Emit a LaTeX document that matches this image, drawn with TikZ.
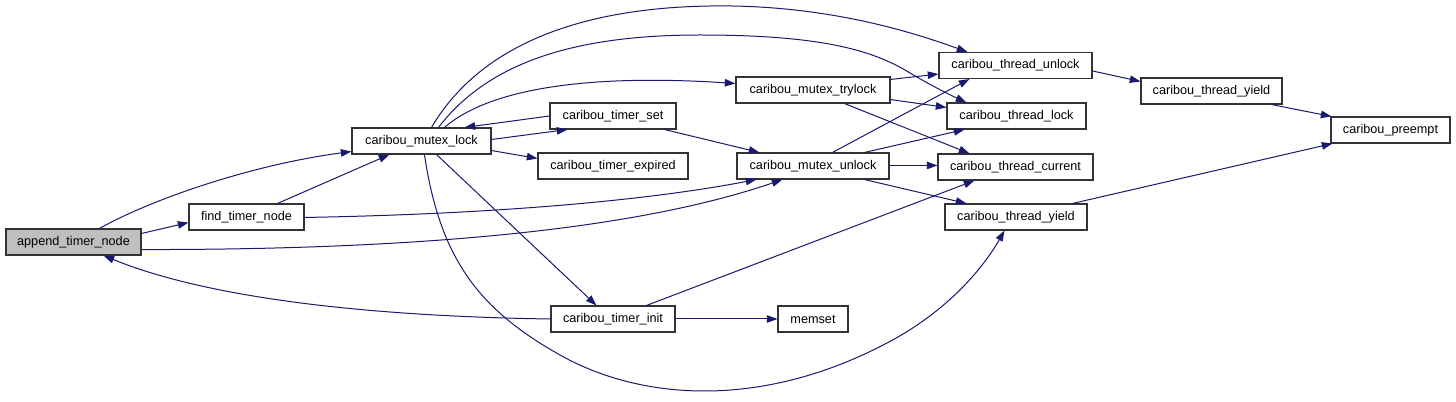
\documentclass[tikz,border=0pt]{standalone}
\usepackage{fontspec}
\setmainfont{Liberation Sans}
\usetikzlibrary{arrows.meta,calc}
\definecolor{edgeblue}{RGB}{25,25,112}
\definecolor{nodegray}{RGB}{191,191,191}
\tikzset{
  fn/.style={draw=black!80, line width=0.8pt, rectangle, inner sep=0pt,
    minimum height=19.5pt, font=\fontsize{9.5}{11}\selectfont, fill=white},
  call/.style={draw=edgeblue, line width=0.75pt, -{Triangle[length=8pt,width=5.6pt]}},
}
\begin{document}
\begin{tikzpicture}[x=0.75pt,y=-0.75pt]
\path[use as bounding box, fill=white] (0,0) rectangle (1456,402);

\node[fn, fill=nodegray, minimum width=101.25pt] (append) at (73.5,242) {append\_timer\_node};
\node[fn, minimum width=86.25pt] (find) at (246.5,217) {find\_timer\_node};
\node[fn, minimum width=104.25pt] (mlock) at (421.5,141) {caribou\_mutex\_lock};
\node[fn, minimum width=94.5pt] (tset) at (613,116) {caribou\_timer\_set};
\node[fn, minimum width=112.5pt] (texp) at (613,166) {caribou\_timer\_expired};
\node[fn, minimum width=115.5pt] (trylock) at (813,90) {caribou\_mutex\_trylock};
\node[fn, minimum width=114pt] (munlock) at (813,166) {caribou\_mutex\_unlock};
\node[fn, minimum width=93pt] (tinit) at (613,319) {caribou\_timer\_init};
\node[fn, minimum width=52.5pt] (memset) at (813,319) {memset};
\node[fn, minimum width=114.75pt] (tunlock) at (1015.5,65.5) {caribou\_thread\_unlock};
\node[fn, minimum width=104.25pt] (tlock) at (1016.5,116) {caribou\_thread\_lock};
\node[fn, minimum width=116.25pt] (tcur) at (1015.5,167) {caribou\_thread\_current};
\node[fn, minimum width=106.5pt] (tyield) at (1016,217) {caribou\_thread\_yield};
\node[fn, minimum width=105.75pt] (tyield2) at (1211.5,91) {caribou\_thread\_yield};
\node[fn, minimum width=89.25pt] (preempt) at (1390.5,130) {caribou\_preempt};

% append_timer_node
\draw[call] ($(append.north west)+(94,0)$) .. controls (150,200) and (250,165) .. ($(mlock.south west)+(0,-3)$);
\draw[call] ($(append.north east)+(0,5)$) -- ($(find.south west)+(0,-8)$);
\draw[call] ($(append.south east)+(0,-6)$) .. controls (450,250) and (650,225) .. ($(munlock.south west)+(46,0)$);

% find_timer_node
\draw[call] ($(find.north west)+(89,0)$) -- ($(mlock.south west)+(38,0)$);
\draw[call] ($(find.north east)+(0,14)$) .. controls (500,214) and (650,200) .. ($(munlock.south west)+(20,0)$);

% caribou_mutex_lock
\draw[call] ($(mlock.north east)+(0,12)$) -- ($(tset.south west)+(18,0)$);
\draw[call] ($(mlock.south east)+(0,-4)$) -- ($(texp.north west)+(0,6)$);
\draw[call] ($(mlock.north west)+(93,0)$) .. controls (490,88) and (590,74) .. ($(trylock.north west)+(0,7)$);
\draw[call] ($(mlock.north west)+(80,0)$) .. controls (480,45) and (580,8) .. (710,6)
   .. controls (830,4) and (920,35) .. ($(tunlock.north west)+(29,0)$);
\draw[call] ($(mlock.north west)+(87,0)$) .. controls (490,60) and (580,35) .. (700,35)
   .. controls (820,35) and (870,50) .. (905,70)
   .. controls (930,85) and (950,95) .. ($(tlock.north west)+(20,0)$);
\draw[call] ($(mlock.south west)+(85,0)$) -- ($(tinit.north west)+(46,0)$);
\draw[call] ($(mlock.south west)+(73,0)$) .. controls (440,260) and (480,310) .. (560,355)
   .. controls (640,400) and (760,410) .. (887,343)
   .. controls (950,310) and (985,265) .. ($(tyield.south west)+(60,0)$);

% caribou_timer_set
\draw[call] (tset.west) -- ($(mlock.north west)+(113,0)$);
\draw[call] ($(tset.south west)+(115,0)$) -- ($(munlock.north west)+(23,0)$);

% caribou_mutex_trylock
\draw[call] ($(trylock.north east)+(0,3)$) -- ($(tunlock.south west)+(0,-5)$);
\draw[call] ($(trylock.south east)+(0,-4)$) -- ($(tlock.north west)+(0,5)$);
\draw[call] ($(trylock.south west)+(109,0)$) -- ($(tcur.north west)+(32,0)$);

% caribou_mutex_unlock
\draw[call] ($(munlock.north west)+(96,0)$) -- ($(tunlock.south west)+(31,0)$);
\draw[call] ($(munlock.north west)+(128,0)$) -- ($(tlock.south west)+(18,0)$);
\draw[call] ($(munlock.north east)+(0,13)$) -- ($(tcur.north west)+(0,12)$);
\draw[call] ($(munlock.south west)+(128,0)$) -- ($(tyield.north west)+(22,0)$);

% caribou_timer_init
\draw[call] (tinit.west) .. controls (350,316) and (200,295) .. ($(append.south west)+(98,0)$);
\draw[call] (tinit.east) -- (memset.west);
\draw[call] ($(tinit.north west)+(96,0)$) -- ($(tcur.south west)+(37,0)$);

% thread functions
\draw[call] ($(tunlock.north east)+(0,19)$) -- ($(tyield2.north west)+(0,4)$);
\draw[call] ($(tyield2.south west)+(131,0)$) -- ($(preempt.north west)+(1,0)$);
\draw[call] ($(tyield.north west)+(128,0)$) -- ($(preempt.south west)+(2,0)$);
\end{tikzpicture}
\end{document}
